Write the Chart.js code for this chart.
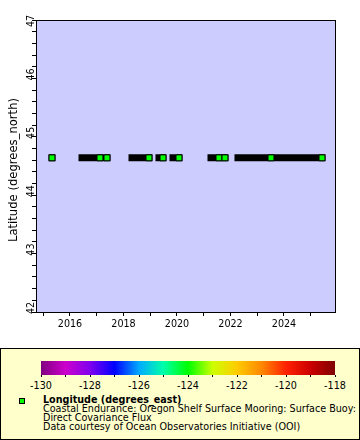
<!DOCTYPE html>
<html>
<head>
<meta charset="utf-8">
<script src="https://cdn.jsdelivr.net/npm/chart.js@4.4.1/dist/chart.umd.min.js"></script>
<style>
  html, body { margin: 0; padding: 0; background: #ffffff; }
  body { width: 360px; height: 440px; position: relative; overflow: hidden; font-family: "DejaVu Sans", sans-serif; }
  #wrap { position: absolute; left: 0; top: 0; width: 360px; height: 348px; }
  #legend { position: absolute; left: 0; top: 348px; width: 360px; height: 92px; box-sizing: border-box;
            border: 1px solid #000; background: #ffffcc; overflow: hidden; }
  #cbar { position: absolute; left: 40px; top: 12px; width: 294px; height: 14px; }
  .cbtick { position: absolute; top: 26px; width: 1px; height: 2px; background: #000; }
  .cblab { position: absolute; top: 31px; font-size: 9.6px; line-height: 11px; color: #000; transform: translateX(-50%); white-space: nowrap; }
  #mark { position: absolute; left: 18px; top: 49px; width: 6px; height: 6px; box-sizing: border-box; border: 1px solid #000; background: #00ff00; }
  #ltext { position: absolute; left: 42px; top: 46px; font-size: 9.6px; line-height: 9px; color: #000; white-space: nowrap; }
  #ltext b { font-weight: bold; }
</style>
</head>
<body>
<div id="wrap"><canvas id="c" width="360" height="348"></canvas></div>
<div id="legend">
  <div id="cbar"></div>
  <div id="mark"></div>
  <div id="ltext"></div>
</div>
<script>
// ---- data (decimal years) ----
const stationLatitude = 44.64;
const stationLongitude = -124.1;
const runStart = [2015.327, 2016.449, 2017.383, 2018.318, 2019.327, 2019.850, 2021.271, 2021.794, 2022.280, 2023.776];
const runEnd   = [2015.327, 2017.121, 2017.383, 2018.953, 2019.477, 2020.075, 2021.570, 2021.794, 2023.514, 2025.421];
const xTickValues = [2015, 2016, 2017, 2018, 2019, 2020, 2021, 2022, 2023, 2024, 2025];
const xTickLabels = [2016, 2018, 2020, 2022, 2024];
const yTickLabels = [42, 43, 44, 45, 46, 47];
const colorbarTicks = [-130, -129, -128, -127, -126, -125, -124, -123, -122, -121, -120, -119, -118];
const colorbarLabels = [-130, -128, -126, -124, -122, -120, -118];
const colorbarColors = ['#800080', '#cc00cc', '#8000ee', '#0000ff', '#00aaff', '#00ffaa', '#00ff00', '#ccff00', '#ffcc00', '#ff8800', '#ff2200', '#cc0000', '#800000'];
const yAxisTitle = 'Latitude (degrees_north)';
const legendTitle = 'Longitude (degrees_east)';
const legendLines = ['Coastal Endurance: Oregon Shelf Surface Mooring: Surface Buoy: Direct Covariance Flux',
                     'Direct Covariance Flux',
                     'Data courtesy of Ocean Observatories Initiative (OOI)'];

// ---- colour mapping for longitude (Rainbow palette) ----
function lonColor(v) {
  const i = colorbarTicks.findIndex(t => t >= v);
  return colorbarColors[Math.max(0, i)];
}

// ---- legend (HTML) ----
const cbar = document.getElementById('cbar');
const cMin = colorbarTicks[0], cMax = colorbarTicks[colorbarTicks.length - 1];
const stops = colorbarTicks.map((t, i) => colorbarColors[i] + ' ' + ((t - cMin) / (cMax - cMin) * 100).toFixed(2) + '%');
cbar.style.background = 'linear-gradient(to right, ' + stops.join(', ') + ')';
const legend = document.getElementById('legend');
colorbarTicks.forEach(t => {
  const d = document.createElement('div');
  d.className = 'cbtick';
  d.style.left = (40 + (t - cMin) / (cMax - cMin) * 294 - 0.5) + 'px';
  legend.appendChild(d);
});
colorbarLabels.forEach(t => {
  const d = document.createElement('div');
  d.className = 'cblab';
  d.style.left = (40 + (t - cMin) / (cMax - cMin) * 294) + 'px';
  d.textContent = String(t);
  legend.appendChild(d);
});
document.getElementById('mark').style.background = lonColor(stationLongitude);
const lt = document.getElementById('ltext');
lt.innerHTML = '<b></b><br><span></span><br><span></span><br><span></span>';
lt.querySelector('b').textContent = legendTitle;
const spans = lt.querySelectorAll('span');
spans[0].textContent = 'Coastal Endurance: Oregon Shelf Surface Mooring: Surface Buoy:';
spans[1].textContent = legendLines[1];
spans[2].textContent = legendLines[2];

// ---- chart ----
Chart.defaults.font.family = '"DejaVu Sans", sans-serif';
Chart.defaults.color = '#000';

const lineData = [];
runStart.forEach((s, i) => {
  lineData.push({x: s, y: stationLatitude});
  lineData.push({x: runEnd[i], y: stationLatitude});
  lineData.push({x: runEnd[i], y: null});
});
const pointData = runEnd.map(e => ({x: e, y: stationLatitude}));

const frame = {
  id: 'frame',
  beforeDraw(chart) {
    const {ctx, chartArea: a} = chart;
    ctx.save();
    ctx.fillStyle = '#ccccff';
    ctx.fillRect(Math.round(a.left), Math.round(a.top), Math.round(a.right) - Math.round(a.left) + 1, Math.round(a.bottom) - Math.round(a.top) + 1);
    ctx.restore();
  },
  afterDraw(chart) {
    const {ctx, chartArea: a} = chart;
    const x0 = Math.round(a.left), y0 = Math.round(a.top), x1 = Math.round(a.right), y1 = Math.round(a.bottom);
    ctx.save();
    ctx.strokeStyle = '#000';
    ctx.lineWidth = 1;
    ctx.strokeRect(x0 + 0.5, y0 + 0.5, x1 - x0, y1 - y0);
    // y tick labels (rotated)
    const ys = chart.scales.y;
    ctx.fillStyle = '#000';
    ctx.font = '9.6px "DejaVu Sans", sans-serif';
    ctx.textAlign = 'center';
    ctx.textBaseline = 'middle';
    yTickLabels.forEach(v => {
      const p = ys.getPixelForValue(v);
      const cy = Math.max(p - 4, a.top + 1);
      ctx.save();
      ctx.translate(31.5, cy);
      ctx.rotate(-Math.PI / 2);
      ctx.fillText(String(v), 0, 0);
      ctx.restore();
    });
    // y axis title
    ctx.font = '11.6px "DejaVu Sans", sans-serif';
    ctx.save();
    ctx.translate(14.3, 170);
    ctx.rotate(-Math.PI / 2);
    ctx.fillText(yAxisTitle, 0, 0);
    ctx.restore();
    ctx.restore();
  }
};

const yMin = yTickLabels[0], yMax = yTickLabels[yTickLabels.length - 1];

new Chart(document.getElementById('c'), {
  type: 'line',
  data: {
    datasets: [
      {
        label: 'Longitude',
        data: pointData,
        showLine: false,
        pointStyle: 'rect',
        pointRadius: 4.2,
        pointHoverRadius: 4.2,
        pointBackgroundColor: lonColor(stationLongitude),
        pointBorderColor: '#000',
        pointBorderWidth: 1,
        order: 0
      },
      {
        label: 'runs',
        data: lineData,
        borderColor: '#000',
        borderWidth: 7,
        borderCapStyle: 'square',
        pointRadius: 0,
        spanGaps: false,
        tension: 0,
        fill: false,
        order: 1
      }
    ]
  },
  options: {
    responsive: false,
    animation: false,
    events: [],
    layout: { padding: { top: 20, right: 25, left: 0, bottom: 0 } },
    plugins: { legend: { display: false }, tooltip: { enabled: false } },
    scales: {
      x: {
        type: 'linear',
        min: 2014.729,
        max: 2025.907,
        afterFit(s) { s.height = 36; },
        afterBuildTicks(s) { s.ticks = xTickValues.map(v => ({value: v})); },
        ticks: {
          autoSkip: false, maxRotation: 0, minRotation: 0, padding: 3,
          font: { size: 9.6 }, color: '#000',
          callback: (v) => xTickLabels.includes(v) ? String(v) : ''
        },
        grid: { drawOnChartArea: false, drawTicks: true, tickLength: 4, color: '#000' },
        border: { display: false }
      },
      y: {
        type: 'linear',
        min: yMin,
        max: yMax,
        afterFit(s) { s.width = 36; },
        afterBuildTicks(s) {
          const t = [];
          for (let i = 0; i <= (yMax - yMin) * 5; i++) t.push({value: Math.round((yMin + i * 0.2) * 10) / 10});
          s.ticks = t;
        },
        ticks: { display: false },
        grid: { drawOnChartArea: false, drawTicks: true, tickLength: 4, color: '#000' },
        border: { display: false }
      }
    }
  },
  plugins: [frame]
});
</script>
</body>
</html>
